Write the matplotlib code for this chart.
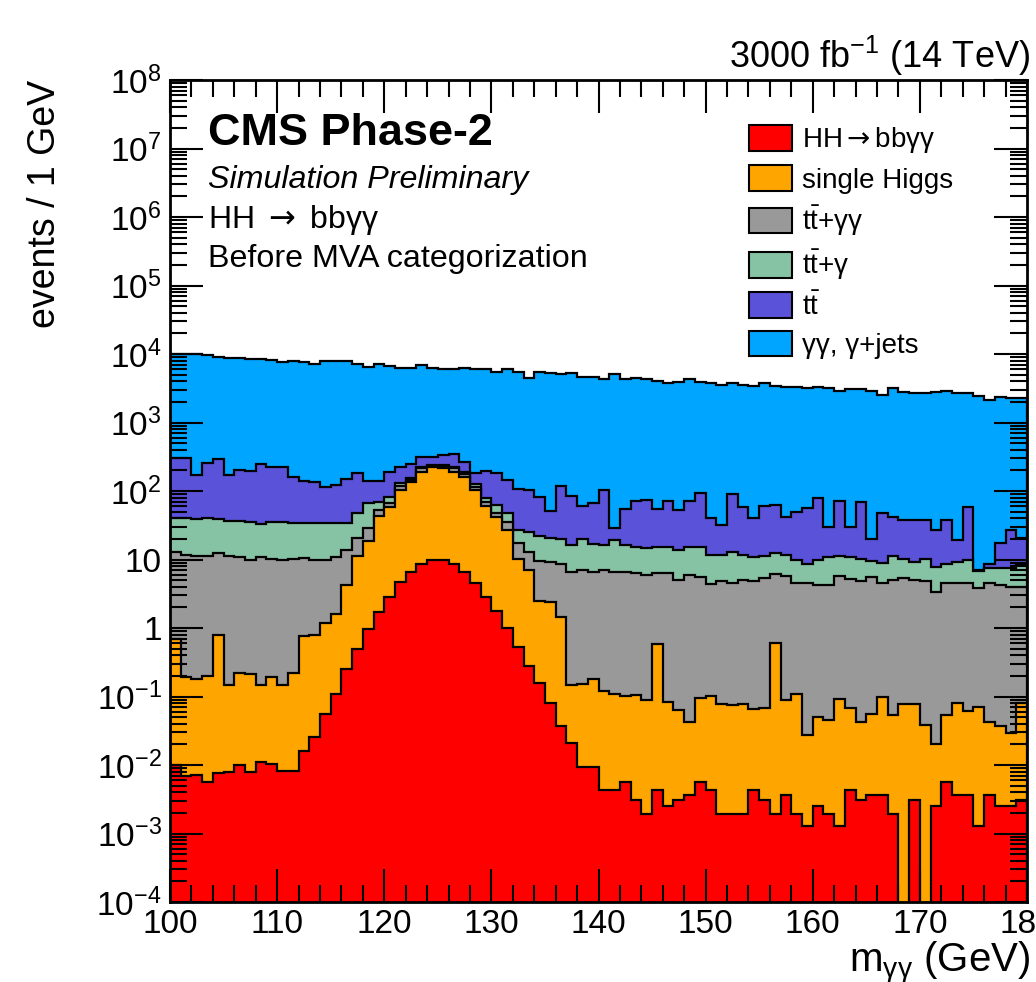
import numpy as np
import matplotlib
matplotlib.use("Agg")
import matplotlib.pyplot as plt
from matplotlib.patches import Patch
from matplotlib.ticker import LogLocator, MultipleLocator, FuncFormatter, NullFormatter

plt.rcParams['font.family'] = ['Liberation Sans', 'DejaVu Sans']
plt.rcParams['mathtext.fontset'] = 'custom'
plt.rcParams['mathtext.rm'] = 'Liberation Sans'
plt.rcParams['mathtext.it'] = 'Liberation Sans:italic'
plt.rcParams['mathtext.bf'] = 'Liberation Sans:bold'
plt.rcParams['mathtext.sf'] = 'DejaVu Sans'  # seta mais larga

# binagem: 80 bins de 1 GeV entre 100 e 180
bordas = np.arange(100, 181, 1)

# eventos por bin de cada processo
hh = [0.0100, 0.0069, 0.0071, 0.0057, 0.0076, 0.0080, 0.0100, 0.0080, 0.0112, 0.0102,
      0.0082, 0.0082, 0.0162, 0.0254, 0.0556, 0.109, 0.249, 0.493, 0.957, 1.73,
      2.86, 4.64, 6.64, 8.6, 9.84, 9.7, 8.6, 6.5, 4.58, 2.86,
      1.77, 1.01, 0.533, 0.279, 0.156, 0.0813, 0.0371, 0.0212, 0.0094, 0.0094,
      0.0043, 0.0043, 0.0057, 0.0031, 0.0019, 0.0043, 0.0025, 0.0031, 0.0037, 0.0057,
      0.0043, 0.0019, 0.0019, 0.0019, 0.0043, 0.0031, 0.0019, 0.0037, 0.0019, 0.0013,
      0.0025, 0.0019, 0.0013, 0.0043, 0.0031, 0.0037, 0.0037, 0.0019, 0.0, 0.0031,
      0.0, 0.0025, 0.0056, 0.0037, 0.0037, 0.0013, 0.0037, 0.0025, 0.0025, 0.0031]

single_h = [0.69, 0.186, 0.175, 0.192, 0.777, 0.141, 0.211, 0.208, 0.138, 0.183,
            0.138, 0.213, 0.744, 0.76, 1.13, 1.48, 4.05, 10.7, 17.7, 41.3,
            56.1, 100, 129, 182, 211, 204, 182, 155, 100, 57,
            40, 26.4, 9.57, 6.82, 2.34, 2.32, 1.41, 0.125, 0.145, 0.168,
            0.116, 0.106, 0.095, 0.101, 0.086, 0.576, 0.080, 0.060, 0.039, 0.090,
            0.098, 0.077, 0.072, 0.075, 0.062, 0.064, 0.609, 0.085, 0.107, 0.026,
            0.047, 0.044, 0.090, 0.063, 0.040, 0.052, 0.096, 0.052, 0.079, 0.074,
            0.039, 0.018, 0.048, 0.076, 0.057, 0.070, 0.039, 0.035, 0.027, 0.076]

ttgg = [12.2, 11.4, 11.1, 11.0, 11.7, 11.05, 10.7, 9.58, 10.55, 9.81,
        9.65, 9.78, 9.59, 9.2, 8.6, 9.3, 9.4, 9.1, 9.7, 10,
        8, 13, 8, 23, 10, 12, 23, 16, 10, 10,
        6, 8.1, 7.4, 5.8, 7.1, 6.85, 7.15, 6.45, 6.85, 6.42,
        6.88, 6.39, 6.4, 6.15, 5.91, 5.82, 6.17, 5.04, 5.86, 5.5,
        4.3, 4.82, 4.53, 4.92, 4.83, 5.23, 5.49, 5.71, 4.39, 4.57,
        4.15, 4.15, 5.71, 5.13, 4.86, 5.54, 4.5, 5.05, 5.22, 4.92,
        4.86, 3.38, 4.45, 4.42, 4.44, 3.73, 4.46, 4.16, 3.97, 3.92]

ttg = [26.8, 28.1, 28.0, 28.5, 26.0, 25.5, 25.8, 25.7, 21.8, 25.5,
       25.7, 24.3, 23.3, 23.6, 24.5, 22.7, 19.9, 27.7, 38.6, 17,
       15, 14, 12, 12, 8, 13, 12, 14, 10, 8,
       14, 12.5, 9.9, 11.9, 12.3, 11.05, 11.0, 9.6, 12.6, 10.2,
       9.2, 12.7, 9.7, 8.75, 8.5, 8.6, 8.75, 8.6, 9.1, 9.4,
       7.2, 6.9, 8.3, 6.6, 5.8, 5.9, 6.5, 5.8, 5.5, 4.1,
       5.8, 6.5, 5.5, 5.7, 5.2, 4.0, 4.3, 6.1, 4.8, 4.25,
       5.2, 4.4, 4.2, 4.75, 5.3, 3.0, 3.1, 3.4, 3.4, 4.3]

tt = [259, 259, 132, 213, 250, 134, 165, 160, 214, 190,
      190, 127, 107, 102, 81, 88, 118, 137, 72, 69,
      109, 94, 91, 90, 70, 95, 120, 76, 56, 117,
      123, 96, 80, 78, 60, 30, 98, 69, 40, 49,
      87, 10, 39, 57, 60, 39, 57, 39, 57, 79,
      29, 20, 77, 47, 29, 49, 49, 30, 40, 48,
      68, 19, 59, 19, 58, 10, 39, 30, 28, 29,
      28, 19, 29, 10, 49, 0.2, 1.1, 9.9, 20, 12]

gjets = [9700, 9700, 9720, 9420, 8850, 8480, 8550, 8360, 8110, 7940,
         7500, 7750, 7590, 6920, 7700, 7700, 7670, 6960, 6390, 6920,
         6490, 5950, 5930, 6510, 6000, 5780, 5760, 6040, 5790, 5920,
         5340, 5970, 5290, 4410, 5320, 5170, 4990, 5260, 4550, 4600,
         4210, 5020, 4300, 4440, 4200, 4030, 3660, 3800, 4200, 3850,
         3770, 3450, 3720, 3460, 3370, 3670, 3350, 3290, 3210, 3090,
         3250, 3120, 2840, 3020, 3010, 2860, 2470, 3110, 2780, 2680,
         2680, 2720, 2840, 2640, 2600, 2450, 2120, 2310, 2220, 2280]

rotulos = [r'HH$\mathsf{\rightarrow}$bbγγ', 'single Higgs', r'$\mathrm{t\bar{t}}$+γγ',
           r'$\mathrm{t\bar{t}}$+γ', r'$\mathrm{t\bar{t}}$', 'γγ, γ+jets']
cores = ['#ff0000', '#ffa500', '#999999', '#86c2a4', '#5a52d9', '#00a5ff']

# empilhamento (de baixo para cima)
pilha = np.cumsum(np.array([hh, single_h, ttgg, ttg, tt, gjets]), axis=0)

W, H = 1036, 982
fig = plt.figure(figsize=(W / 100, H / 100), dpi=100)
ax = fig.add_axes([170 / W, 80 / H, 857 / W, 822 / H])

# desenha do topo para baixo, como o THStack do ROOT
for i in reversed(range(len(cores))):
    ax.stairs(np.clip(pilha[i], 1e-7, None), bordas, baseline=1e-7, fill=True,
              facecolor=cores[i], edgecolor='black', linewidth=1.6)

ax.set_yscale('log')
ax.set_xlim(100, 180)
ax.set_ylim(1e-4, 1e8)

ax.xaxis.set_major_locator(MultipleLocator(10))
ax.xaxis.set_minor_locator(MultipleLocator(2))
ax.yaxis.set_major_locator(LogLocator(base=10, numticks=100))
ax.yaxis.set_minor_locator(LogLocator(base=10, subs=np.arange(2, 10), numticks=100))
ax.yaxis.set_minor_formatter(NullFormatter())


def fmt_y(v, pos):
    e = int(round(np.log10(v)))
    if e == 0:
        return '1'
    if e == 1:
        return '10'
    return r'$10^{%d}$' % e


ax.yaxis.set_major_formatter(FuncFormatter(fmt_y))
ax.tick_params(which='both', direction='in', top=True, right=True, labelsize=24, width=1.5)
ax.tick_params(which='major', length=24)
ax.tick_params(which='minor', length=12)
ax.tick_params(axis='x', pad=5)
ax.tick_params(axis='y', pad=6)
for s in ax.spines.values():
    s.set_linewidth(2)

# textos
fig.text(208 / W, 1 - 145 / H, 'CMS Phase-2', fontsize=32.4, fontweight='bold', ha='left', va='baseline')
fig.text(208 / W, 1 - 188 / H, 'Simulation Preliminary', fontsize=23.2, fontstyle='italic', ha='left', va='baseline')
fig.text(208 / W, 1 - 228 / H, r'HH $\mathsf{\rightarrow}$ bbγγ', fontsize=23, ha='left', va='baseline')
fig.text(208 / W, 1 - 267 / H, 'Before MVA categorization', fontsize=23.2, ha='left', va='baseline')
fig.text(1030 / W, 1 - 68 / H, r'3000 fb$^{-1}$ (14 TeV)', fontsize=26, ha='right', va='baseline')
fig.text(1030 / W, 1 - 972 / H, r'm$_{\mathrm{γγ}}$ (GeV)', fontsize=29, ha='right', va='baseline')
fig.text(45 / W, 1 - 80 / H, 'events / 1 GeV', fontsize=27, rotation=90, ha='center', va='top')

# legenda
handles = [Patch(facecolor=c, edgecolor='black', linewidth=1.5) for c in cores]
ax.legend(handles, rotulos, loc='upper left', bbox_to_anchor=(749 / W, 1 - 125 / H),
          bbox_transform=fig.transFigure, frameon=False, fontsize=20,
          handlelength=1.55, handleheight=1.05, labelspacing=0.36, handletextpad=0.35,
          borderpad=0, borderaxespad=0)

fig.savefig('out.png', dpi=100)
